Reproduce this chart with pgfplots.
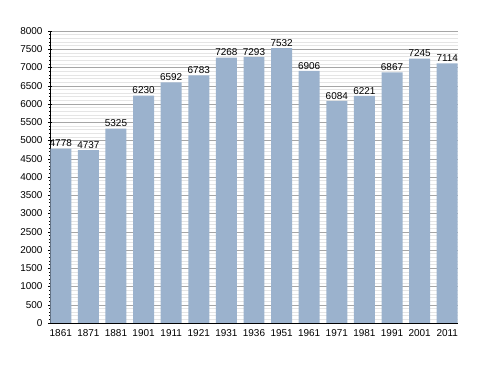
\documentclass[border=0pt]{standalone}
\usepackage{fontspec}
\setmainfont{Liberation Sans}
\usepackage{pgfplots}
\pgfplotsset{compat=1.18}
\definecolor{barc}{RGB}{155,178,205}
\begin{document}
\fontsize{10}{12}\selectfont
\begin{tikzpicture}
\begin{axis}[
  scale only axis,
  width=408bp, height=292bp,
  ybar, bar width=0.76,
  xmin=-0.39, xmax=14.39,
  ymin=0, ymax=8000,
  xtick=data,
  xticklabels={1861,1871,1881,1901,1911,1921,1931,1936,1951,1961,1971,1981,1991,2001,2011},
  xtick style={draw=none},
  ytick distance=500,
  minor y tick num=4,
  ymajorgrids, yminorgrids,
  major grid style={color=black!35, line width=0.5pt},
  minor grid style={color=black!10, line width=0.5pt},
  axis x line*=bottom,
  axis y line*=left,
  axis line style={black, line width=0.7pt},
  tick align=center,
  major tick length=4bp,
  minor tick length=2bp,
  ytick style={black, line width=0.5pt},
  y axis line style={-},
  x axis line style={-},
  tick label style={font=\fontsize{10}{12}\selectfont},
  yticklabel style={xshift=-2pt},
  /pgf/number format/assume math mode=true,
  /pgf/number format/1000 sep={},
  nodes near coords,
  nodes near coords style={font=\fontsize{10}{12}\selectfont, /pgf/number format/1000 sep={}, /pgf/number format/assume math mode=true, inner sep=1.5pt},
  xticklabel style={yshift=-1pt},
]
\addplot[fill=barc, draw=none] coordinates {
(0,4778) (1,4737) (2,5325) (3,6230) (4,6592) (5,6783) (6,7268) (7,7293)
(8,7532) (9,6906) (10,6084) (11,6221) (12,6867) (13,7245) (14,7114)};
\end{axis}
\path (-50bp,-50bp) rectangle (438bp,323bp);
\end{tikzpicture}
\end{document}
